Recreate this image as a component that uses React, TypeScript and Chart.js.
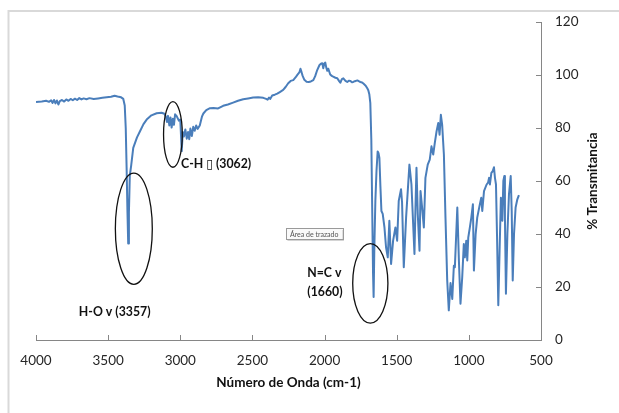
import React, { useEffect, useRef } from 'react';
import { Chart, registerables } from 'chart.js';
Chart.register(...registerables);

const wavenumbers = [
  4000, 3960, 3930, 3910, 3895, 3885, 3875, 3865, 3855, 3845, 3835, 3820, 3805, 3790, 3775, 3760, 3745, 3730, 3715, 3700,
  3685, 3670, 3650, 3630, 3600, 3570, 3540, 3510, 3480, 3455, 3435, 3410, 3395, 3385, 3378, 3372, 3366, 3361, 3356, 3350,
  3340, 3326, 3300, 3280, 3255, 3233, 3200, 3164, 3130, 3110, 3100, 3092, 3085, 3076, 3068, 3060, 3052, 3044, 3036, 3025,
  3010, 3000, 2990, 2983, 2975, 2965, 2955, 2946, 2938, 2930, 2920, 2910, 2900, 2890, 2880, 2865, 2850, 2840, 2820, 2794,
  2770, 2738, 2703, 2670, 2634, 2600, 2564, 2530, 2495, 2460, 2425, 2405, 2395, 2385, 2377, 2363, 2345, 2328, 2310, 2287,
  2270, 2252, 2235, 2217, 2200, 2190, 2175, 2167, 2160, 2152, 2140, 2125, 2110, 2095, 2078, 2065, 2051, 2035, 2025, 2016,
  2009, 2002, 1995, 1988, 1981, 1974, 1961, 1950, 1940, 1925, 1912, 1900, 1891, 1880, 1870, 1855, 1843, 1830, 1822, 1810,
  1801, 1790, 1773, 1760, 1752, 1740, 1731, 1715, 1704, 1697, 1690, 1683, 1676, 1670, 1664, 1660, 1655, 1648, 1640, 1632,
  1626, 1620, 1613, 1606, 1597, 1585, 1574, 1562, 1551, 1539, 1525, 1509, 1497, 1486, 1470, 1463, 1451, 1435, 1412, 1398,
  1386, 1377, 1370, 1363, 1354, 1342, 1335, 1324, 1312, 1301, 1285, 1271, 1259, 1247, 1236, 1224, 1212, 1203, 1194, 1185,
  1173, 1162, 1150, 1139, 1127, 1115, 1104, 1097, 1080, 1069, 1058, 1046, 1035, 1028, 1018, 1011, 1004, 993, 983, 972,
  965, 953, 942, 924, 914, 907, 895, 877, 867, 860, 854, 844, 835, 826, 819, 812, 805, 796, 787, 778,
  768, 761, 754, 750, 743, 733, 722, 710, 703, 696, 687, 676, 664, 653,
];

const transmittance = [
  89.8, 90.0, 90.3, 89.9, 90.5, 89.5, 90.6, 89.3, 90.4, 88.9, 90.2, 90.6, 90.0, 90.8, 90.3, 91.0, 90.5, 91.1, 90.6, 91.3,
  90.8, 91.2, 90.9, 91.3, 91.0, 91.2, 91.4, 91.6, 91.8, 92.2, 91.9, 91.6, 91.0, 88.5, 80, 65, 48, 36.4, 48, 62,
  66, 72.5, 76.5, 78.7, 81.5, 83.2, 84.8, 85.6, 85.8, 85.4, 84.3, 82.3, 84.6, 81.0, 84.0, 80.2, 83.5, 81.2, 85.2, 84.5,
  82.8, 83.2, 71.3, 78.5, 76.8, 79.5, 76.0, 78.5, 75.8, 79.8, 77.0, 80.5, 79.0, 81.0, 79.7, 81.0, 84.3, 85.5, 86.8, 87.5,
  87.6, 87.4, 88.4, 88.9, 89.6, 90.3, 90.9, 91.2, 91.5, 91.6, 91.4, 91.0, 90.7, 91.5, 91.0, 92.3, 92.6, 93.0, 93.6, 94.4,
  95.5, 96.9, 97.8, 98.1, 99.2, 100.0, 101.0, 102.4, 101.2, 99.7, 98.2, 97.5, 97.4, 97.6, 98.1, 99.6, 101.9, 103.8, 104.3, 104.5,
  102.6, 104.4, 104.7, 102.8, 101.6, 102.4, 100.2, 99.7, 99.4, 99.0, 98.8, 97.8, 97.1, 98.5, 98.8, 97.8, 97.4, 97.9, 97.8, 97.3,
  97.4, 97.7, 98.0, 97.6, 97.4, 97.2, 96.8, 96.0, 95.0, 94.3, 92.8, 89.5, 75.7, 50, 25, 16.2, 35, 52.5, 64, 71.2,
  70.5, 68.7, 58, 48.7, 47.6, 42.5, 35, 31.2, 45, 28.7, 37.5, 42.5, 37.5, 52.5, 56.9, 52, 27.5, 46.2, 66.2, 58.8,
  43.7, 32.5, 50, 65, 47.5, 33.7, 56.2, 50, 42.5, 61.2, 66.2, 68.1, 73.1, 70, 74.4, 78.7, 81.9, 77.5, 85, 81.2,
  70, 46.2, 22.5, 11.2, 21.5, 15.5, 28, 27.5, 50, 30, 13.7, 23.7, 36.2, 31.2, 37.5, 30, 38.7, 42.5, 46.2, 51.2,
  26.2, 40, 46.2, 51.2, 53.7, 48.7, 56.2, 58.7, 59.4, 61.2, 58.7, 63.1, 63.7, 65.2, 61.2, 58.7, 40, 13.1, 33.7, 53.7,
  45, 60, 61.9, 46.2, 17.5, 40, 55, 61.9, 48.7, 22.5, 40, 50, 53.1, 54.7,
];

const xTickValues = [4000, 3500, 3000, 2500, 2000, 1500, 1000, 500];
const yTickValues = [0, 20, 40, 60, 80, 100, 120];

const xTitle = 'Número de Onda (cm-1)';
const yTitle = '% Transmitancia';

// annotation anchors in data units
const ellipseCenters = [
  { wn: 3322, t: 42, rw: 128, rt: 21 },
  { wn: 3051, t: 77.6, rw: 65, rt: 12.4 },
  { wn: 1683, t: 21.4, rw: 122, rt: 15 },
];
const annotationLabels = [
  { text: 'H-O v (3357)', wn: 3703, t: 10.5 },
  { text: 'C-H \u25AF (3062)', wn: 2995, t: 66.4 },
  { text: 'N=C v', wn: 2120, t: 25.1 },
  { text: '(1660)', wn: 2120, t: 18 },
];
const hintBox = { text: 'Área de trazado', wn: 2072, t: 40.1 };

const FONT = 'Lato, "Open Sans", "DejaVu Sans", sans-serif';

const decorPlugin = {
  id: 'decor',
  beforeDraw(chart: any) {
    const { ctx } = chart;
    ctx.save();
    ctx.fillStyle = '#ffffff';
    ctx.fillRect(0, 0, chart.width, chart.height);
    ctx.strokeStyle = '#d9d9d9';
    ctx.lineWidth = 2;
    ctx.beginPath();
    ctx.moveTo(8.5, chart.height);
    ctx.lineTo(8.5, 11);
    ctx.lineTo(chart.width, 11);
    ctx.stroke();
    ctx.restore();
  },
  afterDraw(chart: any) {
    const { ctx, chartArea } = chart;
    const x = chart.scales.x;
    const y = chart.scales.y;
    ctx.save();
    // inside tick marks
    ctx.strokeStyle = '#868686';
    ctx.lineWidth = 1;
    ctx.beginPath();
    xTickValues.forEach((v) => {
      const px = Math.round(x.getPixelForValue(v)) + 0.5;
      ctx.moveTo(px, chartArea.bottom);
      ctx.lineTo(px, chartArea.bottom - 5);
    });
    yTickValues.forEach((v) => {
      const py = Math.round(y.getPixelForValue(v)) + 0.5;
      ctx.moveTo(chartArea.right, py);
      ctx.lineTo(chartArea.right - 5, py);
    });
    ctx.stroke();

    // ellipses
    ctx.strokeStyle = '#111';
    ctx.lineWidth = 1.3;
    ellipseCenters.forEach((e) => {
      const cx = x.getPixelForValue(e.wn);
      const cy = y.getPixelForValue(e.t);
      const rx = Math.abs(x.getPixelForValue(e.wn + e.rw) - cx);
      const ry = Math.abs(y.getPixelForValue(e.t + e.rt) - cy);
      ctx.beginPath();
      ctx.ellipse(cx, cy, rx, ry, 0, 0, Math.PI * 2);
      ctx.stroke();
    });

    // labels
    ctx.fillStyle = '#111';
    ctx.font = `bold 12.3px ${FONT}`;
    ctx.textBaseline = 'middle';
    ctx.textAlign = 'left';
    annotationLabels.forEach((l) => {
      ctx.fillText(l.text, x.getPixelForValue(l.wn), y.getPixelForValue(l.t));
    });

    // hint box
    ctx.font = `7px ${FONT}`;
    const hx = x.getPixelForValue(hintBox.wn);
    const hy = y.getPixelForValue(hintBox.t);
    const w = ctx.measureText(hintBox.text).width + 8;
    const h = 11;
    ctx.fillStyle = '#c8c8c8';
    ctx.fillRect(hx - w / 2 + 1.5, hy - h / 2 + 1.5, w, h);
    ctx.fillStyle = '#fafafa';
    ctx.fillRect(hx - w / 2, hy - h / 2, w, h);
    ctx.strokeStyle = '#9a9a9a';
    ctx.lineWidth = 1;
    ctx.strokeRect(Math.round(hx - w / 2) + 0.5, Math.round(hy - h / 2) + 0.5, Math.round(w), h);
    ctx.fillStyle = '#555';
    ctx.textAlign = 'center';
    ctx.fillText(hintBox.text, hx, hy + 0.5);

    // y title (reads bottom to top)
    ctx.save();
    ctx.translate(593, (chartArea.top + chartArea.bottom) / 2);
    ctx.rotate(-Math.PI / 2);
    ctx.font = `bold 13.5px ${FONT}`;
    ctx.fillStyle = '#111';
    ctx.textAlign = 'center';
    ctx.textBaseline = 'middle';
    ctx.fillText(yTitle, 0, 0);
    ctx.restore();

    ctx.restore();
  },
};

export default function App() {
  const ref = useRef<HTMLCanvasElement | null>(null);
  useEffect(() => {
    if (!ref.current) return;
    const points = wavenumbers.map((w, i) => ({ x: w, y: transmittance[i] }));
    const chart = new Chart(ref.current, {
      type: 'line',
      data: {
        datasets: [
          {
            data: points,
            borderColor: '#4a7ebb',
            borderWidth: 2,
            pointRadius: 0,
            tension: 0,
            fill: false,
            borderJoinStyle: 'round',
          },
        ],
      },
      options: {
        responsive: false,
        animation: false,
        parsing: true,
        layout: { padding: { left: 36, top: 20, right: 0, bottom: 0 } },
        plugins: { legend: { display: false }, tooltip: { enabled: false } },
        scales: {
          x: {
            type: 'linear',
            reverse: true,
            min: 500,
            max: 4000,
            afterBuildTicks: (s: any) => {
              s.ticks = xTickValues.map((v) => ({ value: v }));
            },
            afterFit: (s: any) => {
              s.height = 73;
            },
            ticks: {
              callback: (v: any) => String(v),
              font: { family: FONT, size: 13.5 },
              color: '#262626',
              padding: 13,
              maxRotation: 0,
              autoSkip: false,
            },
            grid: { drawOnChartArea: false, drawTicks: false },
            border: { color: '#868686', width: 1 },
            title: {
              display: true,
              text: xTitle,
              font: { family: FONT, size: 13.5, weight: 'bold' },
              color: '#111',
              padding: { top: 0, bottom: 22 },
            },
          },
          y: {
            type: 'linear',
            position: 'right',
            min: 0,
            max: 120,
            afterBuildTicks: (s: any) => {
              s.ticks = yTickValues.map((v) => ({ value: v }));
            },
            afterFit: (s: any) => {
              s.width = 78;
            },
            ticks: {
              callback: (v: any) => String(v),
              font: { family: FONT, size: 13.5 },
              color: '#262626',
              padding: 14,
            },
            grid: { drawOnChartArea: false, drawTicks: false },
            border: { color: '#868686', width: 1 },
          },
        },
      },
      plugins: [decorPlugin],
    } as any);
    return () => chart.destroy();
  }, []);
  return (
    <div style={{ position: 'fixed', left: 0, top: 0, width: 619, height: 413, background: '#fff' }}>
      <canvas ref={ref} width={619} height={413} style={{ display: 'block' }} />
    </div>
  );
}
